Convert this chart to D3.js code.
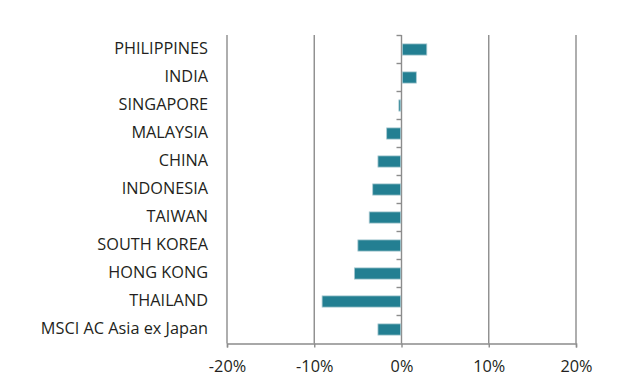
<!DOCTYPE html>
<html>
<head>
<meta charset="utf-8">
<script src="https://cdn.jsdelivr.net/npm/d3@7/dist/d3.min.js"></script>
<style>
  html, body { margin: 0; padding: 0; background: #fff; }
  svg { display: block; }
  text { font-family: "Open Sans", sans-serif; fill: #231f20; }
</style>
</head>
<body>
<svg id="chart" width="621" height="390"></svg>
<script>
const categories = ["PHILIPPINES", "INDIA", "SINGAPORE", "MALAYSIA", "CHINA", "INDONESIA",
  "TAIWAN", "SOUTH KOREA", "HONG KONG", "THAILAND", "MSCI AC Asia ex Japan"];
const values = [2.9, 1.7, -0.3, -1.7, -2.7, -3.3, -3.7, -5.0, -5.4, -9.1, -2.7];
const xTicks = [-20, -10, 0, 10, 20];
const xTickLabels = ["-20%", "-10%", "0%", "10%", "20%"];

const FONT = "'Open Sans', sans-serif";
const FS = 16.3;
const svg = d3.select("#chart");
const x = d3.scaleLinear().domain([-20, 20]).range([227, 576]);
const y = d3.scaleBand().domain(categories).range([35.5, 343.5]).paddingInner(0.6).paddingOuter(0.3);
const yb = d3.scaleBand().domain(categories).range([35.5, 343.5]);

const gridColor = "#8c8c8c";

// vertical gridlines
svg.append("g").selectAll("line").data(xTicks).join("line")
  .attr("x1", d => x(d)).attr("x2", d => x(d))
  .attr("y1", 35).attr("y2", 343.5)
  .attr("stroke", gridColor).attr("stroke-width", 1.4);

// bottom axis
const xAxis = d3.axisBottom(x).tickValues(xTicks).tickSize(4).tickPadding(12.6)
  .tickFormat((d, i) => xTickLabels[i]);
const gx = svg.append("g").attr("transform", "translate(0,343.5)").call(xAxis);
gx.select(".domain").attr("stroke", gridColor).attr("stroke-width", 1.4);
gx.selectAll(".tick line").attr("stroke", gridColor).attr("stroke-width", 1.4);
gx.selectAll(".tick text").attr("font-size", FS).attr("font-family", FONT).attr("fill", "#231f20");

// category ticks on zero line
const boundaries = categories.map(c => yb(c));
svg.append("g").selectAll("line").data(boundaries).join("line")
  .attr("x1", x(0) - 5).attr("x2", x(0))
  .attr("y1", d => d).attr("y2", d => d)
  .attr("stroke", gridColor).attr("stroke-width", 1.4);

// bars
svg.append("g").selectAll("rect").data(values).join("rect")
  .attr("x", d => Math.min(x(0), x(d)) + (d >= 0 ? 0.8 : 0))
  .attr("width", d => Math.abs(x(d) - x(0)) - 0.8)
  .attr("y", (d, i) => y(categories[i]))
  .attr("height", y.bandwidth())
  .attr("fill", "#237f92")
  .attr("stroke", "#a9c9d1").attr("stroke-width", 0.8);

// category labels
svg.append("g").selectAll("text").data(categories).join("text")
  .attr("x", 208)
  .attr("y", d => yb(d) + yb.bandwidth() / 2 - 1)
  .attr("dy", "0.35em")
  .attr("text-anchor", "end")
  .attr("font-size", FS)
  .attr("font-family", FONT)
  .text(d => d);
</script>
</body>
</html>
